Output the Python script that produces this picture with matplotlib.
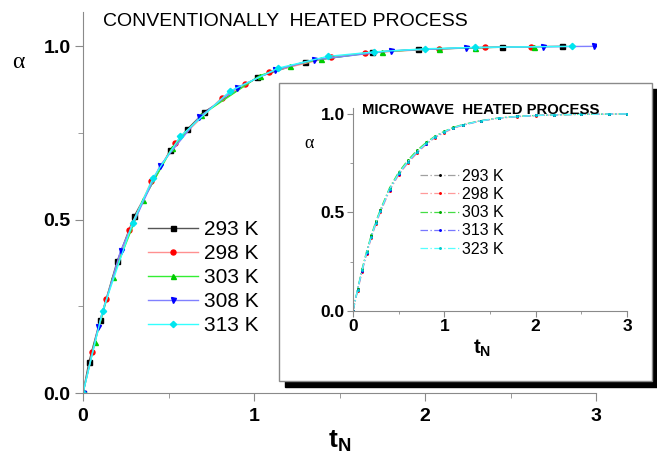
import matplotlib
matplotlib.use("Agg")
import matplotlib.pyplot as plt
from matplotlib.patches import Rectangle
from matplotlib.ticker import MultipleLocator, FormatStrFormatter

plt.rcParams['font.family'] = ['Liberation Sans', 'DejaVu Sans']
plt.rcParams['mathtext.fontset'] = 'custom'
plt.rcParams['mathtext.bf'] = 'Liberation Sans:bold'
plt.rcParams['mathtext.rm'] = 'Liberation Sans'

# conventionally heated process (main plot)
labels_cv = ['293 K', '298 K', '303 K', '308 K', '313 K']
t293 = [0.0, 0.035, 0.10, 0.20, 0.30, 0.51, 0.61, 0.71, 1.02, 1.30, 1.69, 1.96, 2.45, 2.80]
a293 = [0.0, 0.09, 0.21, 0.38, 0.51, 0.70, 0.76, 0.81, 0.91, 0.955, 0.982, 0.99, 0.997, 0.999]
t298 = [0.0, 0.054, 0.135, 0.27, 0.40, 0.54, 0.81, 0.95, 1.09, 1.45, 1.65, 2.08, 2.35, 2.62]
a298 = [0.0, 0.118, 0.27, 0.47, 0.61, 0.72, 0.85, 0.89, 0.925, 0.968, 0.98, 0.992, 0.996, 0.998]
t303 = [0.0, 0.07, 0.175, 0.35, 0.52, 0.69, 1.035, 1.21, 1.39, 1.75, 2.08, 2.29, 2.64]
a303 = [0.0, 0.148, 0.335, 0.555, 0.705, 0.80, 0.915, 0.943, 0.962, 0.984, 0.992, 0.995, 0.998]
t308 = [0.0, 0.09, 0.22, 0.45, 0.68, 0.90, 1.12, 1.35, 1.80, 2.24, 2.69, 2.99]
a308 = [0.0, 0.19, 0.41, 0.655, 0.795, 0.88, 0.93, 0.96, 0.986, 0.995, 0.998, 0.999]
t313 = [0.0, 0.115, 0.29, 0.41, 0.57, 0.86, 1.14, 1.43, 1.70, 2.00, 2.29, 2.86]
a313 = [0.0, 0.237, 0.49, 0.62, 0.74, 0.87, 0.936, 0.97, 0.983, 0.992, 0.996, 0.999]

# microwave heated process (inset)
labels_mw = ['293 K', '298 K', '303 K', '313 K', '323 K']
t_mw = [0, 0.05, 0.1, 0.15, 0.2, 0.25, 0.3, 0.4, 0.5, 0.6, 0.7, 0.8, 0.9, 1.0,
        1.1, 1.2, 1.4, 1.6, 1.8, 2.0, 2.2, 2.5, 2.8, 3.0]
a_mw293 = [0, 0.11, 0.21, 0.30, 0.38, 0.45, 0.51, 0.62, 0.70, 0.76, 0.81, 0.85,
           0.885, 0.91, 0.93, 0.944, 0.965, 0.979, 0.987, 0.992, 0.995, 0.998, 0.999, 1.0]
a_mw298 = [0, 0.10, 0.20, 0.29, 0.37, 0.44, 0.50, 0.61, 0.69, 0.75, 0.80, 0.845,
           0.88, 0.905, 0.927, 0.942, 0.964, 0.978, 0.986, 0.991, 0.995, 0.998, 0.999, 1.0]
a_mw303 = [0, 0.11, 0.215, 0.305, 0.385, 0.455, 0.515, 0.625, 0.705, 0.765, 0.815, 0.855,
           0.888, 0.912, 0.932, 0.946, 0.966, 0.98, 0.988, 0.992, 0.995, 0.998, 0.999, 1.0]
a_mw313 = [0, 0.105, 0.205, 0.295, 0.375, 0.445, 0.505, 0.615, 0.695, 0.755, 0.805, 0.848,
           0.883, 0.908, 0.929, 0.943, 0.965, 0.979, 0.987, 0.992, 0.995, 0.998, 0.999, 1.0]
a_mw323 = [0, 0.108, 0.208, 0.298, 0.378, 0.448, 0.508, 0.618, 0.698, 0.758, 0.808, 0.85,
           0.885, 0.91, 0.93, 0.944, 0.965, 0.979, 0.987, 0.992, 0.995, 0.998, 0.999, 1.0]

W, H = 657, 454
fig = plt.figure(figsize=(W / 100, H / 100), dpi=100)
spine_c = '#8a8a8a'

# ---- main axes
ax = fig.add_axes([83 / W, 1 - 393 / H, (596 - 83) / W, (393 - 12) / H])
ax.set_zorder(0)
ax.set_xlim(0, 3)
ax.set_ylim(0, 1.098)

cv = [(t293, a293, 's', '#000000', '#555555'),
      (t298, a298, 'o', '#ff0000', '#ff9090'),
      (t303, a303, '^', '#00cc00', '#33ee33'),
      (t308, a308, 'v', '#0000ff', '#8080ff'),
      (t313, a313, 'D', '#00e5ee', '#33ffff')]
for (t, a, m, mc, lc), lab in zip(cv, labels_cv):
    ax.plot(t, a, color=lc, lw=1.0, marker=m, ms=3.6 if m != 'D' else 3.2,
            mfc=mc, mec=mc, label=lab)

for s in ['top', 'right']:
    ax.spines[s].set_visible(False)
for s in ['left', 'bottom']:
    ax.spines[s].set_color(spine_c)
ax.xaxis.set_major_locator(MultipleLocator(1))
ax.xaxis.set_minor_locator(MultipleLocator(0.5))
ax.yaxis.set_major_locator(MultipleLocator(0.5))
ax.yaxis.set_minor_locator(MultipleLocator(0.25))
ax.yaxis.set_major_formatter(FormatStrFormatter('%.1f'))
ax.tick_params(which='major', length=6, color=spine_c, labelsize=14, pad=3)
ax.tick_params(axis='x', which='major', pad=4.5)
ax.tick_params(which='minor', length=3.5, color=spine_c)
for lbl in ax.get_xticklabels() + ax.get_yticklabels():
    lbl.set_fontweight('bold')

fig.legend(loc='center left', bbox_to_anchor=(148 / W, 1 - 277.5 / H),
           frameon=False, fontsize=15, handlelength=2.4, handletextpad=0.3,
           labelspacing=0.24, borderpad=0, borderaxespad=0, numpoints=1)

fig.text(103 / W, 1 - 21 / H, 'CONVENTIONALLY  HEATED PROCESS', fontsize=14,
         ha='left', va='center')
fig.text(18 / W, 1 - 62 / H, 'α', fontsize=17, ha='center', va='center',
         family=['Liberation Serif', 'DejaVu Serif'])
fig.text(340 / W, 1 - 441 / H, r'$\mathbf{t_N}$', fontsize=19, ha='center', va='center')

# ---- inset frame with shadow
dx, dy = 6 / W, 6 / H
fx, fy, fw, fh = 279 / W, 1 - 381 / H, (652 - 279) / W, (381 - 83) / H
fig.add_artist(Rectangle((fx + dx, fy - dy), fw, fh, transform=fig.transFigure,
                         facecolor='black', edgecolor='black', zorder=1))
fig.add_artist(Rectangle((fx, fy), fw, fh, transform=fig.transFigure,
                         facecolor='white', edgecolor=spine_c, lw=1, zorder=1.5))

# ---- inset axes
ins = fig.add_axes([353 / W, 1 - 311 / H, (627 - 353) / W, (311 - 108) / H])
ins.set_zorder(2)
ins.patch.set_alpha(0)
ins.set_xlim(0, 3)
ins.set_ylim(0, 1.03)
mw = [(a_mw293, '#a0a0a0', '#000000'),
      (a_mw298, '#ff9a9a', '#ff0000'),
      (a_mw303, '#44dd44', '#00aa00'),
      (a_mw313, '#7777ff', '#0000ff'),
      (a_mw323, '#55ffff', '#00cccc')]
for (a, lc, mc), lab in zip(mw, labels_mw):
    ins.plot(t_mw, a, color=lc, lw=0.9, ls=(0, (6, 2, 1, 2)), marker='.', ms=2.2,
             mfc=mc, mec=mc, label=lab)
for s in ['top', 'right']:
    ins.spines[s].set_visible(False)
for s in ['left', 'bottom']:
    ins.spines[s].set_color(spine_c)
ins.xaxis.set_major_locator(MultipleLocator(1))
ins.xaxis.set_minor_locator(MultipleLocator(0.5))
ins.yaxis.set_major_locator(MultipleLocator(0.5))
ins.yaxis.set_minor_locator(MultipleLocator(0.25))
ins.yaxis.set_major_formatter(FormatStrFormatter('%.1f'))
ins.tick_params(which='major', length=4, color=spine_c, labelsize=12.5, pad=2)
ins.tick_params(which='minor', length=2.5, color=spine_c)
for lbl in ins.get_xticklabels() + ins.get_yticklabels():
    lbl.set_fontweight('bold')

fig.legend(*ins.get_legend_handles_labels(), loc='center left',
           bbox_to_anchor=(420 / W, 1 - 212.7 / H), frameon=False, fontsize=11.5,
           handlelength=2.5, handletextpad=0.15, labelspacing=0.2, borderpad=0,
           borderaxespad=0, numpoints=1).set_zorder(3)

fig.text(362 / W, 1 - 110 / H, 'MICROWAVE  HEATED PROCESS', fontsize=10.7,
         fontweight='bold', ha='left', va='center', zorder=3)
fig.text(309 / W, 1 - 143 / H, 'α', fontsize=13, ha='center', va='center',
         family=['Liberation Serif', 'DejaVu Serif'], zorder=3)
fig.text(482 / W, 1 - 348 / H, r'$\mathbf{t_N}$', fontsize=14.5, ha='center',
         va='center', zorder=3)

fig.savefig('out.png', dpi=100)
